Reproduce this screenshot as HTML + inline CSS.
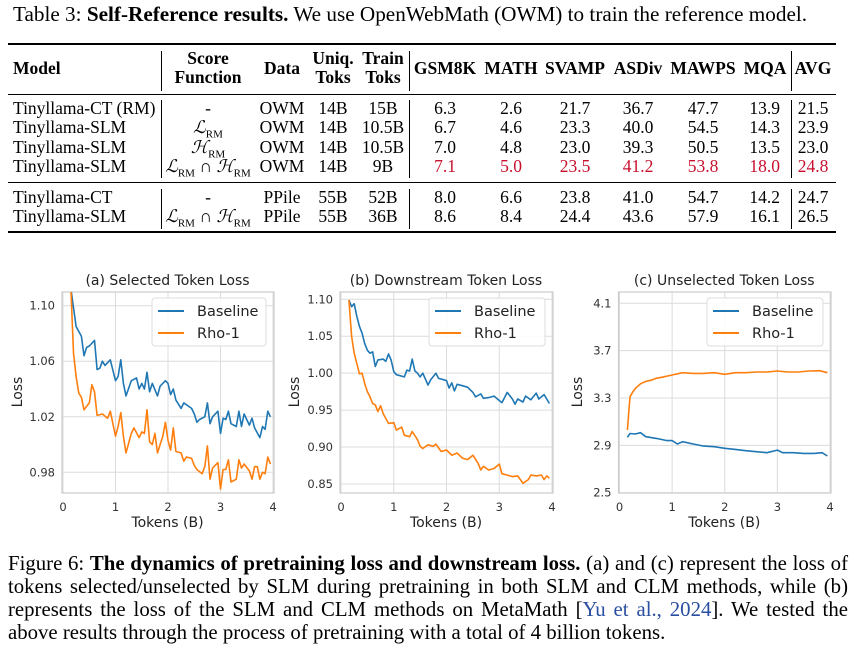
<!DOCTYPE html>
<html><head><meta charset="utf-8"><style>
body{margin:0;background:#fff;width:864px;height:654px;overflow:hidden;position:relative;font-family:"Liberation Serif",serif;color:#000}
.a{position:absolute;white-space:nowrap}
.t{font-size:17.5px;line-height:1}
.c{transform:translateX(-50%)}
.r{transform:translateX(-100%)}
.b{font-weight:bold}
.red{color:#c8102e}
.hl{position:absolute;left:8px;width:828px;background:#000}
.vl{position:absolute;width:1px;background:#000}
.cap{position:absolute;left:8px;width:840px;font-size:20.8px;line-height:23.3px;text-align:justify;text-align-last:justify;white-space:nowrap}
i{font-style:italic}
</style></head><body>
<div class="a" style="left:13px;top:4px;font-size:21.2px;line-height:1">Table 3: <b>Self-Reference results.</b> We use OpenWebMath (OWM) to train the reference model.</div>
<div class="hl" style="top:43px;height:2px"></div>
<div class="hl" style="top:94px;height:1px"></div>
<div class="hl" style="top:182px;height:1px"></div>
<div class="hl" style="top:231px;height:2px"></div>
<div class="vl" style="left:161px;top:51px;height:40px"></div><div class="vl" style="left:161px;top:100px;height:78px"></div><div class="vl" style="left:161px;top:189px;height:40px"></div>
<div class="vl" style="left:409px;top:51px;height:40px"></div><div class="vl" style="left:409px;top:100px;height:78px"></div><div class="vl" style="left:409px;top:189px;height:40px"></div>
<div class="vl" style="left:791px;top:51px;height:40px"></div><div class="vl" style="left:791px;top:100px;height:78px"></div><div class="vl" style="left:791px;top:189px;height:40px"></div>
<div id="tbl"></div>
<svg id="chart" width="864" height="654" style="position:absolute;left:0;top:0"></svg>
<div class="cap" style="top:552px">Figure 6: <b>The dynamics of pretraining loss and downstream loss.</b> (a) and (c) represent the loss of</div>
<div class="cap" style="top:575px">tokens selected/unselected by SLM during pretraining in both SLM and CLM methods, while (b)</div>
<div class="cap" style="top:598px">represents the loss of the SLM and CLM methods on MetaMath [<span style="color:#2a4fa0">Yu et al., 2024</span>]. We tested the</div>
<div class="cap" style="top:621px;text-align-last:left">above results through the process of pretraining with a total of 4 billion tokens.</div>
<script>
// ---------- table ----------
const L='<i>ℒ</i><sub style="font-size:11px">RM</sub>', H='<i>ℋ</i><sub style="font-size:11px">RM</sub>';
const rows=[
 ["Tinyllama-CT (RM)","-","OWM","14B","15B","6.3","2.6","21.7","36.7","47.7","13.9","21.5",0],
 ["Tinyllama-SLM",L,"OWM","14B","10.5B","6.7","4.6","23.3","40.0","54.5","14.3","23.9",0],
 ["Tinyllama-SLM",H,"OWM","14B","10.5B","7.0","4.8","23.0","39.3","50.5","13.5","23.0",0],
 ["Tinyllama-SLM",L+" ∩ "+H,"OWM","14B","9B","7.1","5.0","23.5","41.2","53.8","18.0","24.8",1],
 ["Tinyllama-CT","-","PPile","55B","52B","8.0","6.6","23.8","41.0","54.7","14.2","24.7",0],
 ["Tinyllama-SLM",L+" ∩ "+H,"PPile","55B","36B","8.6","8.4","24.4","43.6","57.9","16.1","26.5",0]];
const rowY=[100,119,139,158,189,208];
const colX=[13,208,282,333,383,445,511,575,638,703,780,813];
let h='';
function cell(x,y,txt,cls,name){h+=`<div class="a t ${cls}" style="left:${x}px;top:${y}px">${txt}</div>`;}
cell(13,60,"Model","b","header-model");
cell(208,50,"Score","b c","header-score");cell(208,69,"Function","b c","header-score-2");
cell(282,60,"Data","b c","header-data");
cell(333,50,"Uniq.","b c","header-uniq");cell(333,69,"Toks","b c","header-uniq-2");
cell(383,50,"Train","b c","header-train");cell(383,69,"Toks","b c","header-train-2");
["GSM8K","MATH","SVAMP","ASDiv","MAWPS","MQA","AVG"].forEach((t,i)=>cell([445,511,575,638,703,765,813][i],60,t,"b c","header-"+t.toLowerCase()));
rows.forEach((r,ri)=>{for(let k=0;k<12;k++){let cls=k==0?"":(k==10?"r":"c");if(r[12]&&k>=5)cls+=" red";cell(colX[k],rowY[ri],r[k],cls,"cell-r"+ri+"-c"+k);}});
document.getElementById('tbl').innerHTML=h;

// ---------- chart data ----------
const aBaseX=[0.15,0.25,0.35,0.4,0.45,0.5,0.6,0.65,0.7,0.75,0.8,0.9,1.0,1.05,1.1,1.15,1.2,1.3,1.4,1.45,1.5,1.55,1.6,1.65,1.7,1.8,1.85,1.95,2.0,2.05,2.1,2.15,2.25,2.3,2.45,2.5,2.55,2.6,2.7,2.75,2.8,2.85,2.95,3.0,3.05,3.1,3.15,3.2,3.3,3.35,3.4,3.45,3.55,3.6,3.65,3.75,3.8,3.85,3.9,3.95];
const aBaseY=[1.112,1.085,1.078,1.064,1.07,1.071,1.075,1.054,1.055,1.06,1.057,1.061,1.046,1.049,1.061,1.044,1.035,1.046,1.048,1.04,1.044,1.04,1.052,1.038,1.044,1.035,1.042,1.046,1.044,1.036,1.04,1.032,1.026,1.03,1.026,1.022,1.016,1.018,1.02,1.030,1.015,1.02,1.024,1.008,1.019,1.018,1.024,1.015,1.013,1.024,1.013,1.022,1.014,1.019,1.012,1.005,1.013,1.011,1.024,1.02];
const aRhoX=[0.15,0.2,0.25,0.3,0.35,0.4,0.5,0.55,0.6,0.65,0.75,0.85,0.9,1.0,1.05,1.1,1.15,1.2,1.3,1.35,1.45,1.5,1.55,1.6,1.65,1.7,1.75,1.8,1.9,1.95,2.0,2.05,2.1,2.15,2.25,2.3,2.35,2.45,2.5,2.55,2.65,2.7,2.75,2.8,2.85,2.95,3.0,3.05,3.1,3.15,3.2,3.3,3.35,3.4,3.45,3.55,3.6,3.65,3.7,3.75,3.8,3.85,3.9,3.95];
const aRhoY=[1.112,1.066,1.049,1.037,1.034,1.025,1.03,1.043,1.038,1.021,1.022,1.019,1.024,1.006,1.013,1.023,1.006,0.994,1.008,1.012,1.005,1.009,1.008,1.025,1.002,1.0,1.008,0.994,1.006,1.016,1.003,0.996,1.012,0.995,0.994,0.988,0.991,0.99,0.985,0.982,0.979,0.984,0.999,0.975,0.983,0.987,0.968,0.982,0.982,0.989,0.973,0.975,0.989,0.983,0.986,0.981,0.975,0.984,0.984,0.975,0.980,0.979,0.991,0.986];
const bBaseX=[0.15,0.2,0.25,0.3,0.35,0.4,0.45,0.5,0.55,0.6,0.65,0.7,0.8,0.85,0.9,0.95,1.0,1.05,1.2,1.25,1.3,1.35,1.4,1.45,1.5,1.55,1.65,1.7,1.8,1.85,1.95,2.0,2.05,2.1,2.15,2.2,2.3,2.4,2.5,2.55,2.65,2.7,2.8,2.9,3.0,3.05,3.15,3.25,3.3,3.35,3.45,3.5,3.6,3.7,3.75,3.85,3.95];
const bBaseY=[1.099,1.09,1.094,1.077,1.063,1.054,1.04,1.031,1.027,1.029,1.009,1.018,1.019,1.016,1.026,1.018,1.002,0.998,0.995,1.004,1.003,1.019,1.003,1.0,0.995,1.0,0.984,0.991,1.0,0.993,0.991,0.99,0.98,0.987,0.976,0.985,0.983,0.981,0.974,0.968,0.972,0.966,0.967,0.969,0.963,0.96,0.974,0.965,0.958,0.965,0.961,0.969,0.964,0.973,0.965,0.971,0.959];
const bRhoX=[0.15,0.2,0.25,0.3,0.35,0.4,0.45,0.5,0.55,0.6,0.65,0.7,0.75,0.8,0.9,1.0,1.05,1.15,1.2,1.3,1.35,1.45,1.5,1.55,1.65,1.75,1.8,1.9,2.0,2.1,2.2,2.3,2.4,2.5,2.6,2.65,2.7,2.8,2.9,3.0,3.05,3.15,3.25,3.35,3.45,3.55,3.6,3.7,3.8,3.85,3.9,3.95];
const bRhoY=[1.099,1.05,1.027,1.013,0.999,1.0,0.986,0.975,0.968,0.959,0.957,0.948,0.956,0.945,0.932,0.933,0.923,0.927,0.916,0.914,0.921,0.91,0.901,0.898,0.903,0.901,0.904,0.894,0.896,0.889,0.892,0.885,0.883,0.889,0.878,0.869,0.874,0.869,0.871,0.877,0.864,0.862,0.86,0.861,0.851,0.856,0.862,0.861,0.862,0.856,0.861,0.858];
const cBaseX=[0.15,0.2,0.3,0.4,0.5,0.7,0.9,1.0,1.1,1.2,1.4,1.6,1.8,2.0,2.2,2.4,2.6,2.8,3.0,3.1,3.3,3.5,3.7,3.85,3.95];
const cBaseY=[2.968,3.0,2.996,3.007,2.973,2.959,2.94,2.94,2.911,2.931,2.911,2.894,2.889,2.875,2.866,2.855,2.846,2.838,2.86,2.838,2.838,2.832,2.832,2.838,2.81];
const cRhoX=[0.15,0.2,0.25,0.3,0.4,0.5,0.6,0.7,0.8,1.0,1.2,1.4,1.6,1.8,2.0,2.2,2.4,2.6,2.8,3.0,3.2,3.4,3.6,3.8,3.95];
const cRhoY=[3.03,3.31,3.35,3.38,3.42,3.44,3.45,3.466,3.475,3.494,3.514,3.508,3.508,3.514,3.5,3.514,3.514,3.52,3.52,3.528,3.52,3.52,3.528,3.531,3.514];
const xTicks=[0,1,2,3,4];
const aYTicks=[0.98,1.02,1.06,1.10];
const bYTicks=[0.85,0.90,0.95,1.00,1.05,1.10];
const cYTicks=[2.5,2.9,3.3,3.7,4.1];

// ---------- chart drawing ----------
const svg=document.getElementById('chart');const NS='http://www.w3.org/2000/svg';
function mk(tag,attrs,parent,text){const e=document.createElementNS(NS,tag);for(const k in attrs)e.setAttribute(k,attrs[k]);if(text!==undefined)e.textContent=text;(parent||svg).appendChild(e);return e;}
function chart(cfg){
 const g=mk('g',{});
 
 
 const X=v=>cfg.x0+(v-0)/(4-0)*(cfg.x1-cfg.x0);
 const Y=v=>cfg.ya+(v-cfg.va)/(cfg.vb-cfg.va)*(cfg.yb-cfg.ya);
 const T=292, B=493, R=cfg.x1;
 const left=cfg.x0-1;
 xTicks.forEach(t=>{const l=mk('line',{x1:X(t),x2:X(t),y1:T,y2:B,stroke:'#dcdcdc','stroke-width':1},g);
  const tx=mk('text',{x:X(t),y:511,'text-anchor':'middle','font-size':11.5,fill:'#333','font-family':'DejaVu Sans'},g,String(t));});
 cfg.yt.forEach(t=>{const l=mk('line',{x1:left,x2:R+1,y1:Y(t),y2:Y(t),stroke:'#dcdcdc','stroke-width':1},g);
  const tx=mk('text',{x:left-7,y:Y(t)+4,'text-anchor':'end','font-size':11.5,fill:'#333','font-family':'DejaVu Sans'},g,cfg.fmt(t));});
 const fr=mk('rect',{x:left,y:T,width:R+1-left,height:B-T,fill:'none',stroke:'#cccccc','stroke-width':1.2},g);
 const clip=mk('clipPath',{id:'clip'+cfg.id},g);mk('rect',{x:left,y:T,width:R+1-left,height:B-T},clip);
 [[cfg.bx,cfg.by,'#1f77b4','baseline-line'],[cfg.rx,cfg.ry,'#ff7f0e','rho1-line']].forEach(([xs,ys,c,n])=>{
  const p=mk('polyline',{points:xs.map((x,i)=>X(x).toFixed(1)+','+Y(ys[i]).toFixed(1)).join(' '),fill:'none',stroke:c,'stroke-width':1.6,'stroke-linejoin':'round','clip-path':`url(#clip${cfg.id})`},g);
  });
 const tt=mk('text',{x:(left+R)/2,y:285,'text-anchor':'middle','font-size':14,fill:'#222','font-family':'DejaVu Sans'},g,cfg.title);
 const xl=mk('text',{x:(left+R)/2,y:527,'text-anchor':'middle','font-size':14,fill:'#222','font-family':'DejaVu Sans'},g,'Tokens (B)');
 const yl=mk('text',{x:0,y:0,'text-anchor':'middle','font-size':14,fill:'#222','font-family':'DejaVu Sans',transform:`translate(${cfg.ylx},392) rotate(-90)`},g,'Loss');
 const lg=mk('g',{},g);
 mk('rect',{x:cfg.lx,y:298,width:cfg.lw,height:48,rx:3,fill:'#fff','fill-opacity':0.85,stroke:'#dddddd'},lg);
 [['Baseline','#1f77b4',311],['Rho-1','#ff7f0e',333]].forEach(([t,c,y])=>{
  const e=mk('line',{x1:cfg.lx+6,x2:cfg.lx+32,y1:y,y2:y,stroke:c,'stroke-width':2},lg);
  const tx=mk('text',{x:cfg.lx+45,y:y+5,'font-size':14.5,fill:'#222','font-family':'DejaVu Sans'},lg,t);});
}
chart({id:'chart-a-selected',x0:63,x1:273,ya:305.7,va:1.10,yb:472.3,vb:0.98,yt:aYTicks,fmt:v=>v.toFixed(2),bx:aBaseX,by:aBaseY,rx:aRhoX,ry:aRhoY,title:'(a) Selected Token Loss',ylx:22,lx:152,lw:114});
chart({id:'chart-b-downstream',x0:341,x1:552,ya:299.3,va:1.10,yb:484,vb:0.85,yt:bYTicks,fmt:v=>v.toFixed(2),bx:bBaseX,by:bBaseY,rx:bRhoX,ry:bRhoY,title:'(b) Downstream Token Loss',ylx:299,lx:429,lw:116});
chart({id:'chart-c-unselected',x0:619.5,x1:830,ya:303.3,va:4.1,yb:492.7,vb:2.5,yt:cYTicks,fmt:v=>v.toFixed(1),bx:cBaseX,by:cBaseY,rx:cRhoX,ry:cRhoY,title:'(c) Unselected Token Loss',ylx:582,lx:707,lw:116});
</script>
</body></html>
